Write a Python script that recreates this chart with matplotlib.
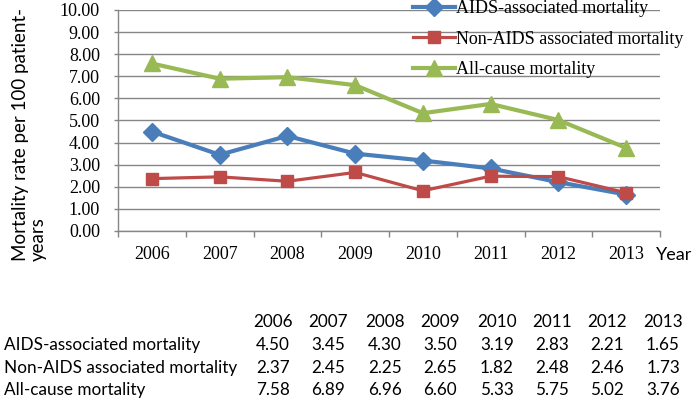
import matplotlib
matplotlib.use("Agg")
import matplotlib.pyplot as plt
from matplotlib.ticker import FixedLocator, FixedFormatter

years = ["2006", "2007", "2008", "2009", "2010", "2011", "2012", "2013"]
aids = [4.50, 3.45, 4.30, 3.50, 3.19, 2.83, 2.21, 1.65]
non_aids = [2.37, 2.45, 2.25, 2.65, 1.82, 2.48, 2.46, 1.73]
all_cause = [7.58, 6.89, 6.96, 6.60, 5.33, 5.75, 5.02, 3.76]
series_names = ["AIDS-associated mortality", "Non-AIDS associated mortality", "All-cause mortality"]
y_ticks = [0, 1, 2, 3, 4, 5, 6, 7, 8, 9, 10]

W, H = 697, 404
fig = plt.figure(figsize=(W / 100, H / 100), dpi=100)
ax = fig.add_axes([118 / W, 1 - 231 / H, (660 - 118) / W, (231 - 10) / H])

serif = "Liberation Serif"
sans = "Lato"
grey = "#868686"

x = list(range(len(years)))
l1, = ax.plot(x, aids, color="#4A7EBB", lw=3, marker="D", ms=9, label=series_names[0], zorder=3)
l2, = ax.plot(x, non_aids, color="#BE4B48", lw=2.3, marker="s", ms=8.5, label=series_names[1], zorder=3)
l3, = ax.plot(x, all_cause, color="#98B954", lw=3, marker="^", ms=11, label=series_names[2], zorder=3)

ax.set_xlim(-0.5, len(years) - 0.5)
ax.set_ylim(0, 10)
ax.set_yticks(y_ticks)
ax.set_yticklabels([f"{v:.2f}" for v in y_ticks], fontfamily=serif, fontsize=13)
ax.yaxis.grid(True, color=grey, lw=1)
ax.set_axisbelow(True)

ax.xaxis.set_major_locator(FixedLocator([i - 0.5 for i in range(len(years) + 1)]))
ax.xaxis.set_major_formatter(FixedFormatter([""] * (len(years) + 1)))
ax.xaxis.set_minor_locator(FixedLocator(x))
ax.xaxis.set_minor_formatter(FixedFormatter(years))
ax.tick_params(axis="x", which="major", length=4, color=grey, width=1)
ax.tick_params(axis="x", which="minor", length=0, pad=11, labelsize=13)
for t in ax.get_xticklabels(minor=True):
    t.set_fontfamily(serif)
ax.tick_params(axis="y", length=3, color=grey, width=1, pad=10)

for s in ["top", "right"]:
    ax.spines[s].set_visible(False)
for s in ["left", "bottom"]:
    ax.spines[s].set_color(grey)
    ax.spines[s].set_linewidth(1)

fig.text(29 / W, 1 - 134 / H, "Mortality rate per 100 patient-\nyears", rotation=90,
         ha="center", va="center", multialignment="left", fontfamily=sans, fontsize=13.5,
         linespacing=1.05)
fig.text(674 / W, 1 - 255 / H, "Year", ha="center", va="center", fontfamily=sans, fontsize=13)

leg = fig.legend(handles=[l1, l2, l3], loc="upper left", bbox_to_anchor=(413 / W, 1 - 0 / H),
                 frameon=False, borderpad=0, borderaxespad=0, handlelength=2.3,
                 handletextpad=0.1, labelspacing=0.75, prop={"family": serif, "size": 13})

# data table
col_x = [273, 328, 385, 440, 497, 552, 607, 663]
row_y = [322, 345, 368, 390]
fs = 12.3
for cx, yr in zip(col_x, years):
    fig.text(cx / W, 1 - row_y[0] / H, yr, ha="center", va="center", fontfamily=sans, fontsize=fs)
for ry, name, vals in zip(row_y[1:], series_names, [aids, non_aids, all_cause]):
    fig.text(4 / W, 1 - ry / H, name, ha="left", va="center", fontfamily=sans, fontsize=fs)
    for cx, v in zip(col_x, vals):
        fig.text(cx / W, 1 - ry / H, f"{v:.2f}", ha="center", va="center", fontfamily=sans, fontsize=fs)

fig.savefig("out.png", dpi=100)
